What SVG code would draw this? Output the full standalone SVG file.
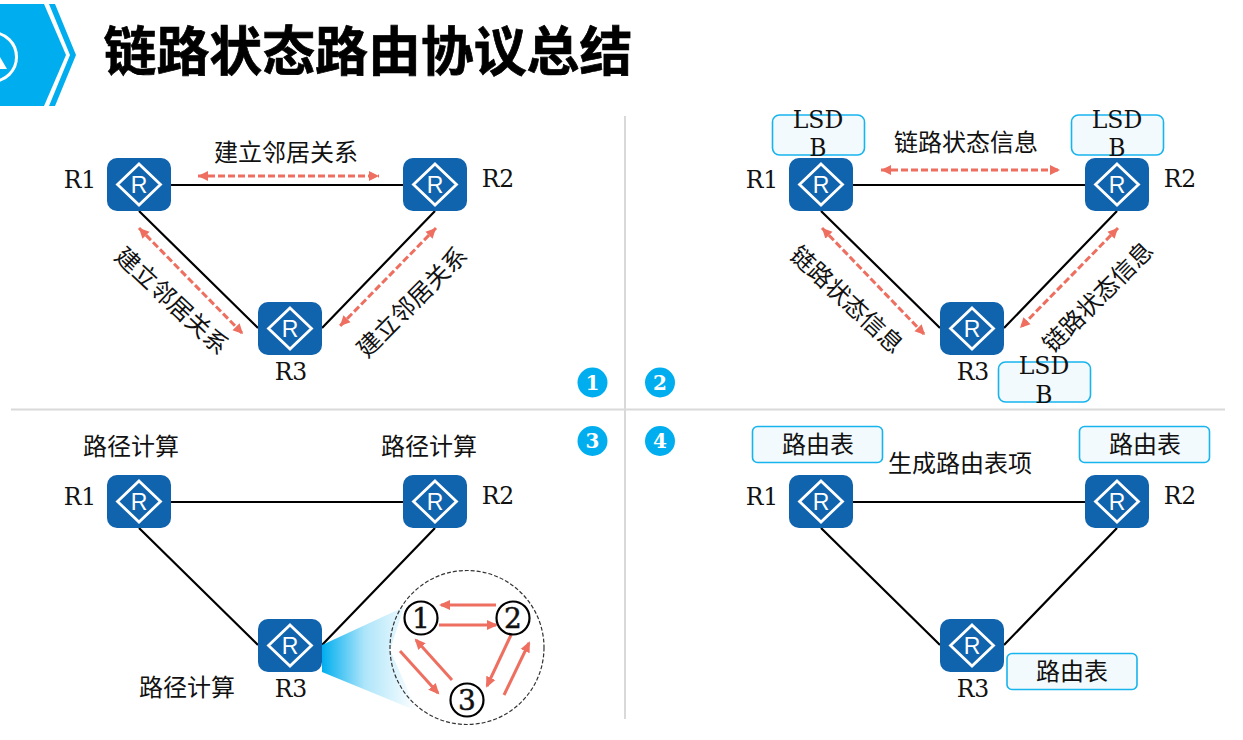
<svg xmlns="http://www.w3.org/2000/svg" width="1243" height="740" viewBox="0 0 1243 740">
<style>
text{font-family:"DejaVu Serif","Noto Sans CJK SC",serif;fill:#111;font-size:23.5px;text-anchor:middle}
.cn{font-size:24px}
.title{font-family:"Noto Sans CJK SC",sans-serif;font-weight:700;font-size:52.9px;text-anchor:start;fill:#000;stroke:#000;stroke-width:.7}
.link{stroke:#000;stroke-width:2.2;fill:none}
.dash{stroke:#ee6f60;stroke-width:3;stroke-dasharray:7 3;fill:none;marker-start:url(#ah);marker-end:url(#ah)}
.solid{stroke:#ee6f60;stroke-width:3;fill:none;marker-end:url(#ah2)}
.div{stroke:#d9d9d9;stroke-width:2}
.box{fill:#f2fafd;stroke:#17b4ee;stroke-width:1.6}
.num{fill:#00aeef}
.numt{fill:#fff;font-weight:700;font-size:20px}
.cir{fill:#fff;stroke:#000;stroke-width:2.2}
.cirt{font-size:28px;stroke:#111;stroke-width:.5}
</style>
<defs>
<marker id="ah" markerUnits="userSpaceOnUse" markerWidth="12" markerHeight="12" refX="10" refY="6" orient="auto-start-reverse"><path d="M0 1L10 6L0 11z" fill="#ee6f60"/></marker>
<marker id="ah2" markerUnits="userSpaceOnUse" markerWidth="12" markerHeight="12" refX="9" refY="6" orient="auto"><path d="M0 1L11 6L0 11z" fill="#ee6f60"/></marker>
<linearGradient id="beam" x1="0" y1="0" x2="1" y2="0"><stop offset="0" stop-color="#00aeef"/><stop offset=".45" stop-color="#00aeef" stop-opacity=".32"/><stop offset="1" stop-color="#00aeef" stop-opacity="0"/></linearGradient>
<g id="router">
<rect x="-32" y="-26.500" width="64" height="53" rx="10" fill="#1063ad"/>
<path d="M0 -20.500L21.500 0L0 20.500L-21.500 0Z" fill="none" stroke="#fff" stroke-width="2.800"/>
<text x="0" y="8.500" style="font-family:'Liberation Sans',sans-serif;font-size:23px;fill:#fff">R</text>
</g>
</defs>
<rect width="1243" height="740" fill="#fff"/>
<g id="header">
<path d="M0 4H44L66 55L44 106H0Z" fill="#00aeef"/>
<path d="M49 4H55L76 55L55 106H49L70 55Z" fill="#00aeef"/>
<circle cx="-8" cy="57" r="24.500" fill="none" stroke="#fff" stroke-width="3"/>
<path d="M0 57L7 69H-7Z" fill="#fff"/>
<text class="title" x="103.500" y="71">链路状态路由协议总结</text>
</g>
<g id="dividers">
<line class="div" x1="625" y1="116" x2="625" y2="719"/>
<line class="div" x1="11" y1="409.500" x2="1225" y2="409.500"/>
</g>
<g id="connectors">
<path class="link" d="M171 185H403M139 211L258 328M435 211L322 328"/>
<path class="link" d="M853 185H1085M821 211L940 328M1117 211L1004 328"/>
<path class="link" d="M171 502H403M139 528L258 645M435 528L322 645"/>
<path class="link" d="M853 502H1085M821 528L940 645M1117 528L1004 645"/>
<path class="dash" d="M198 176H379"/>
<path class="dash" d="M139 228L243 334"/>
<path class="dash" d="M436 228L340 326"/>
<path class="dash" d="M881 170H1060"/>
<path class="dash" d="M822 228L925 335"/>
<path class="dash" d="M1118 228L1020 328"/>
</g>
<g id="p1-labels">
<text class="cn" x="286" y="161">建立邻居关系</text>
<text class="cn" transform="translate(166 307) rotate(43)">建立邻居关系</text>
<text class="cn" transform="translate(418 308) rotate(-45)">建立邻居关系</text>
</g>
<g id="p2-labels">
<text class="cn" x="966" y="151">链路状态信息</text>
<text class="cn" transform="translate(841 306) rotate(43)">链路状态信息</text>
<text class="cn" transform="translate(1104 303) rotate(-45)">链路状态信息</text>
</g>
<g id="p3-labels">
<text class="cn" x="131" y="455">路径计算</text>
<text class="cn" x="429" y="455">路径计算</text>
<text class="cn" x="187" y="696">路径计算</text>
</g>
<g id="p1-r1"><use href="#router" x="139" y="184.500"/><text x="80" y="188">R1</text></g>
<g id="p1-r2"><use href="#router" x="435" y="184.500"/><text x="498" y="187">R2</text></g>
<g id="p1-r3"><use href="#router" x="290" y="328.500"/><text x="291" y="380">R3</text></g>
<g id="p2-r1"><use href="#router" x="821" y="184.500"/><text x="762" y="188">R1</text>
<rect class="box" x="772.500" y="115" width="92" height="40" rx="7"/>
<text x="818" y="128">LSD</text><text x="818" y="156">B</text></g>
<g id="p2-r2"><use href="#router" x="1117" y="184.500"/><text x="1180" y="187">R2</text>
<rect class="box" x="1071.500" y="115" width="92" height="40" rx="7"/>
<text x="1117" y="128">LSD</text><text x="1117" y="156">B</text></g>
<g id="p2-r3"><use href="#router" x="972" y="328.500"/><text x="973" y="380">R3</text>
<rect class="box" x="998.500" y="362" width="92" height="40" rx="7"/>
<text x="1044" y="374">LSD</text><text x="1044" y="403">B</text></g>
<g id="p3-r1"><use href="#router" x="139" y="501.500"/><text x="80" y="505">R1</text></g>
<g id="p3-r2"><use href="#router" x="435" y="501.500"/><text x="498" y="504">R2</text></g>
<g id="p3-r3"><use href="#router" x="290" y="645.500"/><text x="291" y="697">R3</text></g>
<g id="p4-r1"><use href="#router" x="821" y="501.500"/><text x="762" y="505">R1</text>
<rect class="box" x="752.500" y="426.500" width="130" height="36" rx="5"/><text class="cn" x="818" y="453">路由表</text></g>
<g id="p4-r2"><use href="#router" x="1117" y="501.500"/><text x="1180" y="504">R2</text>
<rect class="box" x="1079.500" y="426.500" width="130" height="36" rx="5"/><text class="cn" x="1145" y="453">路由表</text></g>
<g id="p4-r3"><use href="#router" x="972" y="645.500"/><text x="973" y="697">R3</text>
<rect class="box" x="1007" y="653.500" width="130" height="36" rx="5"/><text class="cn" x="1072" y="680">路由表</text></g>
<text class="cn" x="960" y="472">生成路由表项</text>
<g id="badges">
<circle class="num" cx="592.500" cy="382.500" r="15"/><text class="numt" x="592.500" y="389.500">1</text>
<circle class="num" cx="660" cy="382.500" r="15"/><text class="numt" x="660" y="389.500">2</text>
<circle class="num" cx="592.500" cy="441" r="15"/><text class="numt" x="592.500" y="448">3</text>
<circle class="num" cx="660" cy="441" r="15"/><text class="numt" x="660" y="448">4</text>
</g>
<g id="spf">
<path d="M322 645L404 607L390 650L417 711L322 672Z" fill="url(#beam)"/>
<circle cx="467" cy="647.500" r="77" fill="none" stroke="#333" stroke-width="1.200" stroke-dasharray="4 2"/>
<path class="solid" d="M496 605H441"/>
<path class="solid" d="M439 625H496"/>
<path class="solid" d="M511 635L487 686"/>
<path class="solid" d="M504 695L529 643"/>
<path class="solid" d="M452 680L416 640"/>
<path class="solid" d="M400 651L438 693"/>
<circle class="cir" cx="421" cy="618" r="16.500"/><text class="cirt" x="421" y="628">1</text>
<circle class="cir" cx="513" cy="618" r="16.500"/><text class="cirt" x="513" y="628">2</text>
<circle class="cir" cx="467" cy="700" r="16.500"/><text class="cirt" x="467" y="710">3</text>
</g>
</svg>
